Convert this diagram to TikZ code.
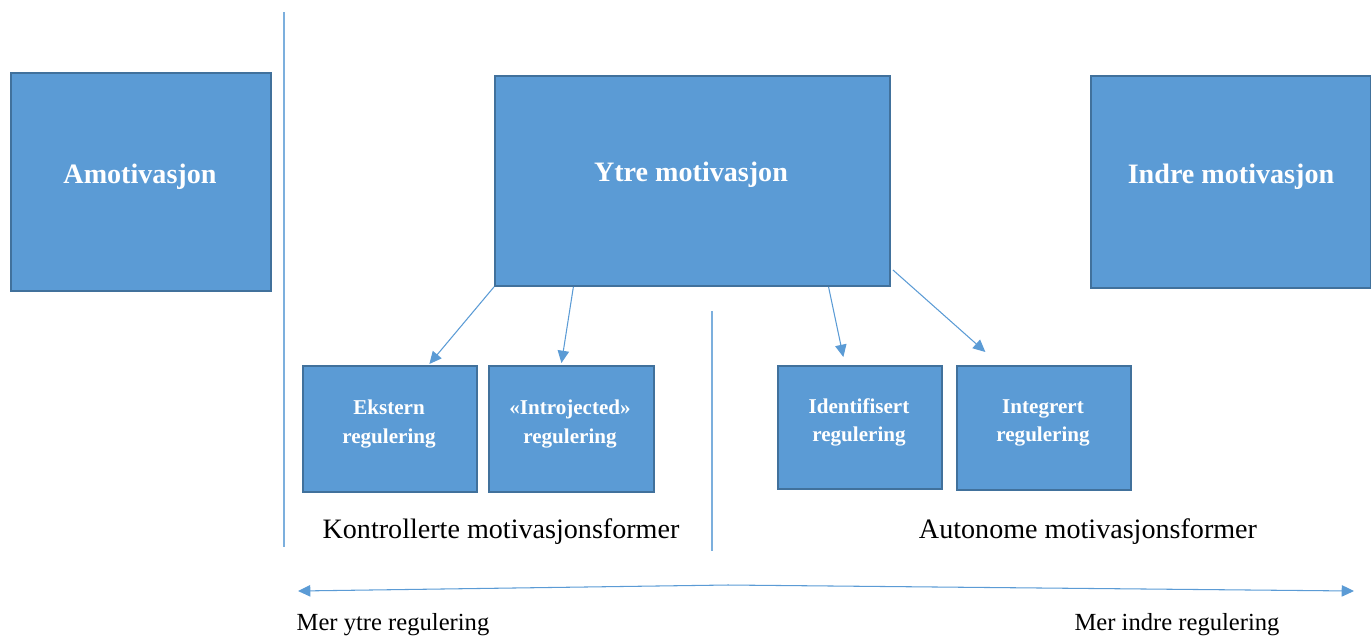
\documentclass[tikz,border=0pt]{standalone}
\usepackage{fontspec}
\setmainfont{Liberation Serif}
\usetikzlibrary{arrows.meta,calc}
\definecolor{boxfill}{HTML}{5B9BD5}
\definecolor{boxline}{HTML}{41719C}
\definecolor{linecol}{HTML}{5B9BD5}
\tikzset{
  bigbox/.style={draw=boxline, line width=1.1pt, fill=boxfill, anchor=north west, inner sep=0pt},
  bigtext/.style={text=white, font=\fontsize{16}{19}\selectfont\bfseries},
  smalltext/.style={text=white, font=\fontsize{12}{16}\selectfont\bfseries, align=center},
  conn/.style={draw=linecol, line width=0.6pt, -{Triangle[length=7pt,width=6.5pt]}},
  sep/.style={draw=linecol!80, line width=0.6pt},
  caption/.style={font=\fontsize{16}{19}\selectfont, text=black},
  endlabel/.style={font=\fontsize{14}{17}\selectfont, text=black}
}
\begin{document}
\begin{tikzpicture}[x=0.02cm,y=-0.02cm]
\useasboundingbox (0,0) rectangle (1371,637);
% boxes
\node[bigbox, minimum width=5.2cm, minimum height=4.36cm] (amot) at (10,72) {};
\node[bigtext] (amott) at (140,177) {Amotivasjon};
\node[bigbox, minimum width=7.9cm, minimum height=4.2cm] (ytre) at (494,75) {};
\node[bigtext] (ytret) at (691,175) {Ytre motivasjon};
\node[bigbox, minimum width=5.6cm, minimum height=4.24cm] (indre) at (1090,75) {};
\node[bigtext] (indret) at (1231,177) {Indre motivasjon};
\node[bigbox, minimum width=3.48cm, minimum height=2.52cm] (ekst) at (302,365) {};
\node[smalltext] (ekstt) at (389,424) {Ekstern\\regulering};
\node[bigbox, minimum width=3.3cm, minimum height=2.52cm] (intro) at (488,365) {};
\node[smalltext] (introt) at (570,424) {«Introjected»\\regulering};
\node[bigbox, minimum width=3.28cm, minimum height=2.46cm] (ident) at (777,365) {};
\node[smalltext] (identt) at (859,422) {Identifisert\\regulering};
\node[bigbox, minimum width=3.48cm, minimum height=2.48cm] (integ) at (956,365) {};
\node[smalltext] (integt) at (1043,423) {Integrert\\regulering};
% separators
\coordinate (s1a) at (284,12);
\coordinate (s1b) at (284,547);
\coordinate (s2a) at (712,311);
\coordinate (s2b) at (712,551);
\draw[sep] (s1a) -- (s1b);
\draw[sep] (s2a) -- (s2b);
% connectors
\draw[conn] (ytre.south west) -- ($(ekst.north west)!0.724!(ekst.north east)+(0,-1)$);
\draw[conn] ($(ytre.south west)!0.2!(ytre.south east)$) -- ($(intro.north west)!0.44!(intro.north east)+(0,-2)$);
\draw[conn] ($(ytre.south west)!0.843!(ytre.south east)$) -- ($(ident.north west)!0.40!(ident.north east)+(0,-8)$);
\draw[conn] ($(ytre.south east)+(2,-17)$) -- ($(integ.north west)!0.167!(integ.north east)+(0,-13)$);
% captions
\node[caption] (kontr) at (501,532) {Kontrollerte motivasjonsformer};
\node[caption] (auto) at (1088,532) {Autonome motivasjonsformer};
% bottom arrow
\coordinate (mid) at (728,585);
\coordinate (leftend) at (298,591);
\coordinate (rightend) at (1354,591);
\draw[conn] (mid) -- (leftend);
\draw[conn] (mid) -- (rightend);
\node[endlabel] (mer1) at (393,625) {Mer ytre regulering};
\node[endlabel] (mer2) at (1177,625) {Mer indre regulering};
\end{tikzpicture}
\end{document}
